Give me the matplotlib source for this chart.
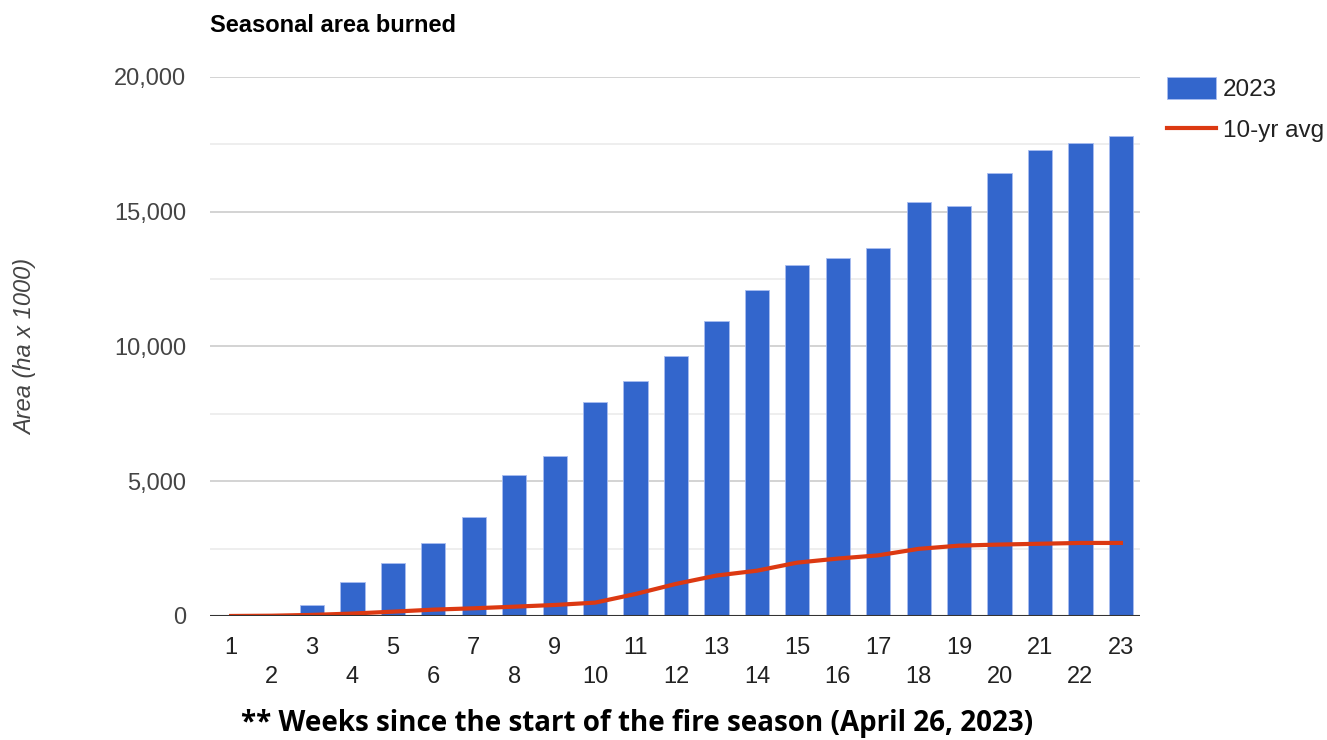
import matplotlib.pyplot as plt
import numpy as np
from matplotlib.ticker import FuncFormatter, MultipleLocator

# 数据（单位：千公顷）
weeks = np.arange(1, 24)
area_2023 = [0, 0, 410, 1260, 1970, 2690, 3660, 5220, 5940, 7950, 8720, 9630,
             10930, 12100, 13010, 13270, 13650, 15350, 15210, 16450, 17290, 17540, 17810]
avg_10yr = [0, 10, 40, 90, 160, 235, 285, 345, 408, 495, 816, 1190,
            1500, 1680, 1980, 2130, 2250, 2490, 2610, 2650, 2680, 2710, 2710]

plt.rcParams['font.family'] = ['Liberation Sans', 'DejaVu Sans']

fig = plt.figure(figsize=(13.27, 7.40), dpi=100)
ax = fig.add_axes([0.1583, 0.1676, 0.859 - 0.1583, 0.896 - 0.1676])

# 网格线
ax.set_ylim(0, 20000)
ax.set_xlim(0.48, 23.47)
ax.yaxis.set_major_locator(MultipleLocator(5000))
ax.yaxis.set_minor_locator(MultipleLocator(2500))
ax.grid(axis='y', which='major', color='#cccccc', lw=1.2, zorder=0)
ax.grid(axis='y', which='minor', color='#ebebeb', lw=1.2, zorder=0)

bars = ax.bar(weeks, area_2023, width=0.6, color='#3366cc', edgecolor='#a9bdf0',
              linewidth=0.6, label='2023', zorder=2)
line, = ax.plot(weeks, avg_10yr, color='#dc3912', lw=3, label='10-yr avg', zorder=3)
ax.axhline(0, color='#333333', lw=1.5, zorder=4)

for s in ax.spines.values():
    s.set_visible(False)

ax.yaxis.set_major_formatter(FuncFormatter(lambda v, p: f'{int(v):,}'))
ax.tick_params(axis='y', which='both', length=0, pad=17, labelsize=17, labelcolor='#444444')
ax.set_xticks(weeks)
ax.set_xticklabels([str(w) for w in weeks])
ax.tick_params(axis='x', length=0, labelsize=17, labelcolor='#222222')
for i, tk in enumerate(ax.xaxis.get_major_ticks()):
    tk.set_pad(15 if i % 2 == 0 else 36)

fig.text(210 / 1327, 1 - 25 / 740, 'Seasonal area burned', fontsize=17,
         fontweight='bold', va='center', ha='left')
fig.text(26 / 1327, 1 - 347 / 740, 'Area (ha x 1000)', fontsize=17, style='italic',
         color='#444444', rotation=90, va='center', ha='center')
fig.text(637 / 1327, 1 - 724 / 740,
         '** Weeks since the start of the fire season (April 26, 2023)',
         fontsize=20, fontweight='bold', va='center', ha='center',
         family=['Open Sans', 'DejaVu Sans'])

leg = ax.legend([bars, line], ['2023', '10-yr avg'], loc='upper left',
                bbox_to_anchor=(1.019, 1.018), frameon=False, borderaxespad=0,
                fontsize=17.5, handlelength=2.0, handleheight=1.0,
                labelspacing=0.7, handletextpad=0.3)
for t in leg.get_texts():
    t.set_color('#222222')

plt.savefig('out.png', dpi=100)
plt.close()
